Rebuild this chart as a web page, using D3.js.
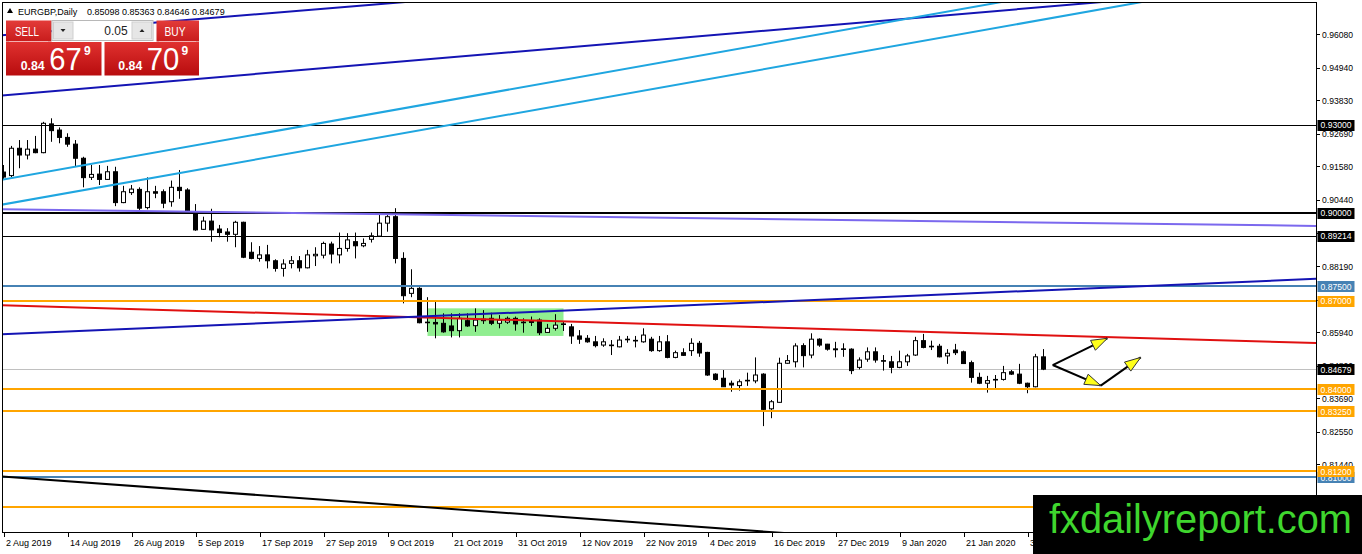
<!DOCTYPE html>
<html lang="en">
<head>
<meta charset="utf-8">
<title>EURGBP, Daily</title>
<script src="https://cdn.jsdelivr.net/npm/d3@7"></script>
<style>
  html, body { margin: 0; padding: 0; background: #fff; }
  svg { display: block; font-family: "Liberation Sans", Arial, sans-serif; }
</style>
</head>
<body>
<div id="chart"></div>
<script>
// daily bars, 2 Aug 2019 .. 4 Feb 2020 (one per trading day)
var opens = [
  0.9139, 0.9127, 0.9220, 0.9197, 0.9217, 0.9205, 0.9303, 0.9282, 0.9257, 0.9234,
  0.9186, 0.9121, 0.9132, 0.9114, 0.9140, 0.9035, 0.9069, 0.9080, 0.9018, 0.9072,
  0.9072, 0.9038, 0.9087, 0.9078, 0.8999, 0.8944, 0.8972, 0.8945, 0.8935, 0.8927,
  0.8968, 0.8866, 0.8845, 0.8857, 0.8837, 0.8811, 0.8828, 0.8837, 0.8813, 0.8854,
  0.8856, 0.8894, 0.8857, 0.8879, 0.8902, 0.8888, 0.8910, 0.8921, 0.8965, 0.8987,
  0.8845, 0.8726, 0.8743, 0.8628, 0.8627, 0.8624, 0.8615, 0.8599, 0.8633, 0.8616,
  0.8638, 0.8641, 0.8624, 0.8628, 0.8641, 0.8628, 0.8632, 0.8635, 0.8593, 0.8607,
  0.8622, 0.8612, 0.8581, 0.8573, 0.8561, 0.8550, 0.8550, 0.8544, 0.8570, 0.8565,
  0.8561, 0.8570, 0.8531, 0.8561, 0.8508, 0.8524, 0.8531, 0.8556, 0.8525, 0.8451,
  0.8437, 0.8420, 0.8412, 0.8429, 0.8428, 0.8451, 0.8333, 0.8355, 0.8488, 0.8493,
  0.8548, 0.8516, 0.8570, 0.8553, 0.8537, 0.8537, 0.8536, 0.8474, 0.8502, 0.8527,
  0.8497, 0.8493, 0.8474, 0.8493, 0.8516, 0.8565, 0.8546, 0.8546, 0.8513, 0.8533,
  0.8527, 0.8490, 0.8440, 0.8420, 0.8433, 0.8433, 0.8459, 0.8451, 0.8420, 0.8408,
  0.85098
];
var highs = [
  0.9163, 0.9228, 0.9248, 0.9248, 0.9262, 0.9310, 0.9322, 0.9291, 0.9271, 0.9248,
  0.9191, 0.9163, 0.9163, 0.9160, 0.9157, 0.9092, 0.9095, 0.9087, 0.9121, 0.9092,
  0.9080, 0.9110, 0.9146, 0.9084, 0.9030, 0.8987, 0.9014, 0.8959, 0.8948, 0.8973,
  0.8970, 0.8900, 0.8887, 0.8891, 0.8842, 0.8842, 0.8853, 0.8853, 0.8874, 0.8883,
  0.8902, 0.8902, 0.8933, 0.8931, 0.8933, 0.8913, 0.8933, 0.8993, 0.8993, 0.9016,
  0.8866, 0.8808, 0.8747, 0.8713, 0.8703, 0.8658, 0.8658, 0.8658, 0.8658, 0.8675,
  0.8669, 0.8660, 0.8652, 0.8647, 0.8647, 0.8641, 0.8647, 0.8641, 0.8622, 0.8655,
  0.8630, 0.8622, 0.8601, 0.8584, 0.8581, 0.8573, 0.8567, 0.8581, 0.8581, 0.8581,
  0.8607, 0.8578, 0.8581, 0.8584, 0.8531, 0.8539, 0.8573, 0.8564, 0.8527, 0.8454,
  0.8465, 0.8429, 0.8433, 0.8456, 0.8508, 0.8454, 0.8363, 0.8507, 0.8516, 0.8556,
  0.8556, 0.8590, 0.8573, 0.8554, 0.8561, 0.8556, 0.8539, 0.8508, 0.8542, 0.8542,
  0.8516, 0.8513, 0.8531, 0.8520, 0.8578, 0.8588, 0.8565, 0.8554, 0.8536, 0.8554,
  0.8531, 0.8497, 0.8456, 0.8445, 0.8448, 0.8479, 0.8465, 0.8486, 0.8422, 0.8520,
  0.85363
];
var lows = [
  0.9112, 0.9122, 0.9152, 0.9182, 0.9203, 0.9203, 0.9242, 0.9237, 0.9225, 0.9157,
  0.9087, 0.9112, 0.9095, 0.9112, 0.9023, 0.9033, 0.9061, 0.9010, 0.9012, 0.9050,
  0.9016, 0.9021, 0.9048, 0.9005, 0.8939, 0.8942, 0.8902, 0.8917, 0.8902, 0.8883,
  0.8846, 0.8842, 0.8834, 0.8811, 0.8800, 0.8783, 0.8811, 0.8800, 0.8811, 0.8819,
  0.8845, 0.8828, 0.8828, 0.8868, 0.8845, 0.8883, 0.8899, 0.8919, 0.8936, 0.8828,
  0.8692, 0.8713, 0.8624, 0.8595, 0.8573, 0.8592, 0.8576, 0.8576, 0.8612, 0.8595,
  0.8622, 0.8618, 0.8607, 0.8622, 0.8599, 0.8592, 0.8615, 0.8584, 0.8592, 0.8599,
  0.8598, 0.8554, 0.8554, 0.8558, 0.8542, 0.8544, 0.8516, 0.8542, 0.8558, 0.8542,
  0.8558, 0.8527, 0.8527, 0.8505, 0.8505, 0.8513, 0.8513, 0.8510, 0.8445, 0.8429,
  0.8408, 0.8391, 0.8395, 0.8411, 0.8420, 0.8274, 0.8301, 0.8354, 0.8486, 0.8474,
  0.8474, 0.8505, 0.8544, 0.8531, 0.8508, 0.8510, 0.8451, 0.8467, 0.8493, 0.8490,
  0.8463, 0.8454, 0.8471, 0.8479, 0.8513, 0.8539, 0.8533, 0.8508, 0.8486, 0.8516,
  0.8486, 0.8422, 0.8417, 0.8388, 0.8403, 0.8429, 0.8448, 0.8417, 0.8386, 0.8406,
  0.84646
];
var closes = [
  0.9122, 0.9220, 0.9197, 0.9217, 0.9205, 0.9305, 0.9280, 0.9257, 0.9234, 0.9186,
  0.9120, 0.9131, 0.9114, 0.9140, 0.9035, 0.9072, 0.9081, 0.9016, 0.9072, 0.9067,
  0.9033, 0.9087, 0.9076, 0.9007, 0.8942, 0.8972, 0.8942, 0.8933, 0.8927, 0.8968,
  0.8849, 0.8845, 0.8857, 0.8837, 0.8811, 0.8826, 0.8837, 0.8813, 0.8857, 0.8859,
  0.8896, 0.8860, 0.8879, 0.8908, 0.8888, 0.8896, 0.8922, 0.8965, 0.8987, 0.8845,
  0.8718, 0.8743, 0.8626, 0.8626, 0.8622, 0.8595, 0.8599, 0.8641, 0.8615, 0.8635,
  0.8633, 0.8624, 0.8635, 0.8641, 0.8622, 0.8626, 0.8627, 0.8592, 0.8607, 0.8618,
  0.8621, 0.8581, 0.8570, 0.8561, 0.8548, 0.8561, 0.8549, 0.8567, 0.8568, 0.8566,
  0.8584, 0.8531, 0.8561, 0.8508, 0.8524, 0.8515, 0.8556, 0.8523, 0.8448, 0.8433,
  0.8408, 0.8414, 0.8425, 0.8430, 0.8448, 0.8331, 0.8357, 0.8488, 0.8497, 0.8547,
  0.8514, 0.8570, 0.8550, 0.8536, 0.8534, 0.8535, 0.8463, 0.8499, 0.8527, 0.8499,
  0.8496, 0.8474, 0.8493, 0.8513, 0.8565, 0.8542, 0.8545, 0.8510, 0.8522, 0.8524,
  0.8487, 0.8440, 0.8420, 0.8429, 0.8432, 0.8456, 0.8451, 0.8420, 0.8408, 0.8510,
  0.84679
];

// date labels, one every 8 bars
var xTickLabels = ["2 Aug 2019", "14 Aug 2019", "26 Aug 2019", "5 Sep 2019", "17 Sep 2019",
  "27 Sep 2019", "9 Oct 2019", "21 Oct 2019", "31 Oct 2019", "12 Nov 2019", "22 Nov 2019",
  "4 Dec 2019", "16 Dec 2019", "27 Dec 2019", "9 Jan 2020", "21 Jan 2020", "31 Jan 2020"];
var yTicks = [0.9608, 0.9494, 0.9383, 0.9269, 0.9158, 0.9044, 0.8930, 0.8819,
  0.8705, 0.8594, 0.8480, 0.8369, 0.8255, 0.8144, 0.8030];

// horizontal levels
var blackLevels = [0.93, 0.90, 0.89214];
var blueLevels = [0.875, 0.81];
var orangeLevels = [0.87, 0.84, 0.8325, 0.812, 0.80];

// trendlines: [bar, price] anchor pairs
var navyTop = [[0, 0.9605], [40, 0.9695]];
var navyLow = [[0, 0.9400], [130, 0.9701]];
var skyTop = [[0, 0.9114], [120, 0.9695]];
var skyLow = [[0, 0.9029], [120, 0.9610]];
var slateLine = [[0, 0.9012], [160, 0.8957]];
var redLine = [[0, 0.8685], [160, 0.8560]];
var blueLine = [[0, 0.8587], [160, 0.8771]];
var blackLine = [[0, 0.8102], [90, 0.7925]];

// range box and arrows
var zoneBars = [53, 70];
var zonePrices = [0.8675, 0.8581];
var arrowUp = [[131.15, 0.8482], [137.98, 0.8573]];
var arrowDown = [[131.15, 0.8482], [137.15, 0.8412]];
var arrowUp2 = [[137.15, 0.8412], [142.15, 0.8508]];

var lotSize = "0.05";
var spread = 0.0003;

var W = 1362, H = 554;
var plotL = 2, plotT = 2, plotR = 1316, plotB = 532;
var last = closes.length - 1;
var fmt5 = d3.format(".5f");

var x = d3.scaleLinear().domain([0, 164]).range([3.5, 1315.5]);
var y = d3.scaleLinear().domain([0.80, 0.9608]).range([506.6, 34.3]);

var svg = d3.select("#chart").append("svg")
  .attr("width", W)
  .attr("height", H);
svg.append("rect").attr("width", W).attr("height", H).attr("fill", "#fff");

var defs = svg.append("defs");
defs.append("clipPath").attr("id", "plotClip")
  .append("rect")
  .attr("x", plotL).attr("y", plotT)
  .attr("width", plotR - plotL).attr("height", plotB - plotT);

var plot = svg.append("g").attr("clip-path", "url(#plotClip)");

// green consolidation box
plot.append("rect")
  .attr("x", x(zoneBars[0]))
  .attr("y", y(zonePrices[0]))
  .attr("width", x(zoneBars[1]) - x(zoneBars[0]))
  .attr("height", y(zonePrices[1]) - y(zonePrices[0]))
  .attr("fill", "#90ee90");

// crisp pixel row for a price
function rowY(p, w) {
  return w % 2 ? Math.round(y(p)) + 0.5 : Math.round(y(p));
}

// last price line
plot.append("line")
  .attr("x1", plotL).attr("x2", plotR)
  .attr("y1", rowY(closes[last], 1)).attr("y2", rowY(closes[last], 1))
  .attr("stroke", "#c0c0c0").attr("stroke-width", 1);

// candles
var candle = plot.append("g").selectAll("g")
  .data(d3.range(opens.length))
  .join("g");
candle.append("line")
  .attr("x1", function(d) { return x(d); })
  .attr("x2", function(d) { return x(d); })
  .attr("y1", function(d) { return y(highs[d]); })
  .attr("y2", function(d) { return y(lows[d]); })
  .attr("stroke", "#000").attr("stroke-width", 1);
candle.append("rect")
  .attr("x", function(d) { return x(d) - 2; })
  .attr("width", 4)
  .attr("y", function(d) { return y(Math.max(opens[d], closes[d])); })
  .attr("height", function(d) { return Math.max(0.6, Math.abs(y(opens[d]) - y(closes[d]))); })
  .attr("fill", function(d) { return closes[d] >= opens[d] ? "#fff" : "#000"; })
  .attr("stroke", "#000").attr("stroke-width", 1);

// horizontal levels
function hline(p, color, w) {
  plot.append("line")
    .attr("x1", plotL).attr("x2", plotR)
    .attr("y1", rowY(p, w)).attr("y2", rowY(p, w))
    .attr("stroke", color).attr("stroke-width", w);
}
blueLevels.forEach(function(p) { hline(p, "#4682b4", 2); });
orangeLevels.forEach(function(p) { hline(p, "#ffa500", 2); });
blackLevels.forEach(function(p) { hline(p, "#000", p === 0.90 ? 2 : 1); });

// trendlines, extended across the window
function trend(pts, color, w) {
  var x1 = x(pts[0][0]), y1 = y(pts[0][1]);
  var x2 = x(pts[1][0]), y2 = y(pts[1][1]);
  var m = (y2 - y1) / (x2 - x1);
  plot.append("line")
    .attr("x1", 0).attr("y1", y1 + m * (0 - x1))
    .attr("x2", W).attr("y2", y1 + m * (W - x1))
    .attr("stroke", color).attr("stroke-width", w);
}
trend(slateLine, "#7b68ee", 2);
trend(redLine, "#e01010", 2);
trend(blueLine, "#1414b4", 2);
trend(navyTop, "#1414b4", 2);
trend(navyLow, "#1414b4", 2);
trend(skyTop, "#1fa6e0", 2);
trend(skyLow, "#1fa6e0", 2);
trend(blackLine, "#000", 2);

// arrows
function arrow(pts) {
  var x1 = x(pts[0][0]), y1 = y(pts[0][1]);
  var x2 = x(pts[1][0]), y2 = y(pts[1][1]);
  var len = Math.hypot(x2 - x1, y2 - y1);
  var ux = (x2 - x1) / len, uy = (y2 - y1) / len;
  plot.append("line")
    .attr("x1", x1).attr("y1", y1).attr("x2", x2).attr("y2", y2)
    .attr("stroke", "#000").attr("stroke-width", 2);
  var bx = x2 - ux * 16, by = y2 - uy * 16;
  var pts2 = [[x2, y2], [bx - uy * 5.5, by + ux * 5.5], [bx + uy * 5.5, by - ux * 5.5]];
  plot.append("path")
    .attr("d", "M" + pts2.join("L") + "Z")
    .attr("fill", "#ffff1a").attr("stroke", "#333").attr("stroke-width", 1);
}
arrow(arrowUp);
arrow(arrowDown);
arrow(arrowUp2);

// frame
svg.append("rect")
  .attr("x", plotL + 0.5).attr("y", plotT + 0.5)
  .attr("width", plotR - plotL).attr("height", plotB - plotT)
  .attr("fill", "none").attr("stroke", "#000").attr("stroke-width", 1);

// price axis
var yAx = svg.append("g").attr("font-size", "9.5px").attr("fill", "#000");
yTicks.forEach(function(p) {
  var py = rowY(p, 1);
  yAx.append("line")
    .attr("x1", plotR).attr("x2", plotR + 4)
    .attr("y1", py).attr("y2", py)
    .attr("stroke", "#000");
  yAx.append("text")
    .attr("x", plotR + 6).attr("y", y(p) + 3.5)
    .attr("textLength", 31).attr("lengthAdjust", "spacingAndGlyphs")
    .text(fmt5(p));
});

// level tags on the price axis
function tag(p, bg) {
  var g = svg.append("g");
  g.append("rect")
    .attr("x", plotR + 1.5).attr("y", Math.round(y(p)) - 5)
    .attr("width", 37).attr("height", 11)
    .attr("fill", bg);
  g.append("text")
    .attr("x", plotR + 4.5).attr("y", y(p) + 3.5)
    .attr("font-size", "9.5px").attr("fill", "#fff")
    .attr("textLength", 31).attr("lengthAdjust", "spacingAndGlyphs")
    .text(fmt5(p));
}
blueLevels.forEach(function(p) { tag(p, "#4682b4"); });
orangeLevels.forEach(function(p) { tag(p, "#ffa500"); });
blackLevels.forEach(function(p) { tag(p, "#000"); });
tag(closes[last], "#000");

// time axis
var xAx = svg.append("g").attr("font-size", "9px").attr("fill", "#000");
xTickLabels.forEach(function(lbl, k) {
  var px = Math.round(x(k * 8)) + 0.5;
  xAx.append("line")
    .attr("x1", px).attr("x2", px)
    .attr("y1", plotB).attr("y2", plotB + 5)
    .attr("stroke", "#000");
  xAx.append("text")
    .attr("x", px + 1.5).attr("y", 545.5)
    .text(lbl);
});

// header
svg.append("path").attr("d", "M7,13 L10,8 L13,13 Z").attr("fill", "#000");
svg.append("text")
  .attr("x", 18).attr("y", 14.5)
  .attr("font-size", "9px")
  .text("EURGBP,Daily");
svg.append("text")
  .attr("x", 87).attr("y", 14.5)
  .attr("font-size", "9px")
  .text([opens[last], highs[last], lows[last], closes[last]].map(fmt5).join(" "));

// one-click trading panel
var grad = defs.append("linearGradient").attr("id", "redBig")
  .attr("x1", 0).attr("y1", 0).attr("x2", 0).attr("y2", 1);
grad.append("stop").attr("offset", "0%").attr("stop-color", "#e0312f");
grad.append("stop").attr("offset", "100%").attr("stop-color", "#b80c0e");
var grad2 = defs.append("linearGradient").attr("id", "redTop")
  .attr("x1", 0).attr("y1", 0).attr("x2", 0).attr("y2", 1);
grad2.append("stop").attr("offset", "0%").attr("stop-color", "#e33b39");
grad2.append("stop").attr("offset", "100%").attr("stop-color", "#c81c1c");

var panel = svg.append("g");
panel.append("rect").attr("x", 6).attr("y", 20.5).attr("width", 45.5).attr("height", 21).attr("fill", "url(#redTop)");
panel.append("rect").attr("x", 156.5).attr("y", 20.5).attr("width", 42.5).attr("height", 21).attr("fill", "url(#redTop)");
panel.append("line").attr("x1", 9).attr("x2", 48).attr("y1", 41.5).attr("y2", 41.5).attr("stroke", "#f3b0b0").attr("stroke-width", 1);
panel.append("line").attr("x1", 159).attr("x2", 196).attr("y1", 41.5).attr("y2", 41.5).attr("stroke", "#f3b0b0").attr("stroke-width", 1);
panel.append("rect").attr("x", 6).attr("y", 42).attr("width", 95.5).attr("height", 33.5).attr("fill", "url(#redBig)");
panel.append("rect").attr("x", 104.5).attr("y", 42).attr("width", 94.5).attr("height", 33.5).attr("fill", "url(#redBig)");

panel.append("rect").attr("x", 52).attr("y", 20.5).attr("width", 101).attr("height", 20).attr("fill", "#fff").attr("stroke", "#b8b8b8");
panel.append("rect").attr("x", 53.5).attr("y", 22).attr("width", 19.5).attr("height", 17).attr("fill", "#e6e6e6").attr("stroke", "#cfcfcf");
panel.append("rect").attr("x", 132).attr("y", 22).attr("width", 19.5).attr("height", 17).attr("fill", "#e6e6e6").attr("stroke", "#cfcfcf");
panel.append("path").attr("d", "M60.5,29 L65.5,29 L63,32 Z").attr("fill", "#222");
panel.append("path").attr("d", "M139.5,32 L144.5,32 L142,29 Z").attr("fill", "#222");
panel.append("text").attr("x", 127.7).attr("y", 35).attr("text-anchor", "end")
  .attr("font-size", "12px").attr("fill", "#222").text(lotSize);

panel.append("text").attr("x", 27).attr("y", 35.5).attr("text-anchor", "middle")
  .attr("font-size", "13px").attr("fill", "#fff")
  .attr("textLength", 24).attr("lengthAdjust", "spacingAndGlyphs").text("SELL");
panel.append("text").attr("x", 175).attr("y", 35.5).attr("text-anchor", "middle")
  .attr("font-size", "13px").attr("fill", "#fff")
  .attr("textLength", 21).attr("lengthAdjust", "spacingAndGlyphs").text("BUY");

function quote(price, x0) {
  var s = price.toFixed(5);
  panel.append("text").attr("x", x0).attr("y", 69.5)
    .attr("font-size", "13px").attr("font-weight", "bold").attr("fill", "#fff")
    .attr("textLength", 24).attr("lengthAdjust", "spacingAndGlyphs")
    .text(s.slice(0, 4));
  panel.append("text").attr("x", x0 + 28.5).attr("y", 69.5)
    .attr("font-size", "31px").attr("fill", "#fff")
    .attr("textLength", 32.5).attr("lengthAdjust", "spacingAndGlyphs")
    .text(s.slice(4, 6));
  panel.append("text").attr("x", x0 + 63.3).attr("y", 55)
    .attr("font-size", "12px").attr("font-weight", "bold").attr("fill", "#fff")
    .text(s.slice(6));
}
quote(closes[last], 20.7);
quote(closes[last] + spread, 118.3);

// watermark
svg.append("rect").attr("x", 1033).attr("y", 495).attr("width", 329).attr("height", 59).attr("fill", "#000");
svg.append("text")
  .attr("x", 1049).attr("y", 533)
  .attr("font-size", "41px").attr("fill", "#3fd62e")
  .attr("textLength", 303).attr("lengthAdjust", "spacingAndGlyphs")
  .text("fxdailyreport.com");
</script>
</body>
</html>
